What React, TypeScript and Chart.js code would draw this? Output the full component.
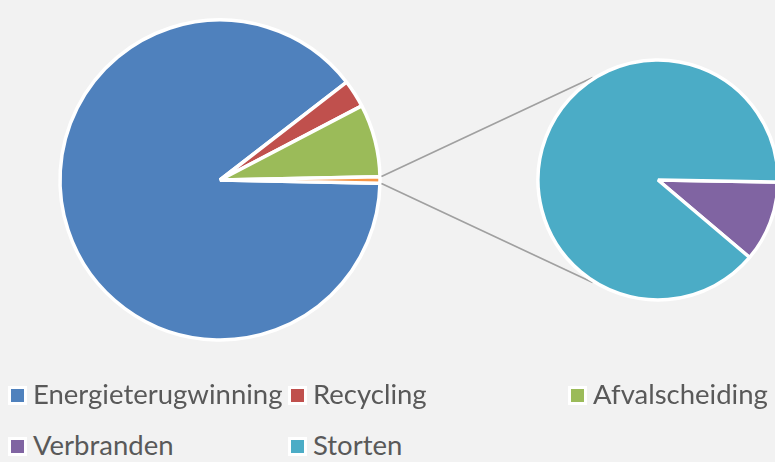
import React, { useEffect, useRef } from "react";
import { Chart, registerables } from "chart.js";

Chart.register(...registerables);

// Primary pie categories
const mainLabels = ["Energieterugwinning", "Recycling", "Afvalscheiding"];
const mainValues = [89.2, 2.8, 7.33];
const mainColors = ["#4f81bd", "#c0504d", "#9bbb59"];
const otherLabel = "Overig";
const otherColor = "#f79646";

// Secondary (split-off) pie categories
const secondLabels = ["Verbranden", "Storten"];
const secondValues = [0.073, 0.597];
const secondColors = ["#8064a2", "#4bacc6"];

// Legend order
const legendLabels = [...mainLabels, ...secondLabels];
const legendColors = [...mainColors, ...secondColors];

const W = 775;
const H = 462;
const CH = 370;

export default function App() {
  const leftRef = useRef<HTMLCanvasElement | null>(null);
  const rightRef = useRef<HTMLCanvasElement | null>(null);

  useEffect(() => {
    const otherValue = secondValues.reduce((a, b) => a + b, 0);
    const total = mainValues.reduce((a, b) => a + b, 0) + otherValue;
    const otherAngle = (360 * otherValue) / total;

    const left = new Chart(leftRef.current as HTMLCanvasElement, {
      type: "pie",
      data: {
        labels: [...mainLabels, otherLabel],
        datasets: [
          {
            data: [...mainValues, otherValue],
            backgroundColor: [...mainColors, otherColor],
            borderColor: "#ffffff",
            borderWidth: 3.5,
            hoverOffset: 0,
            radius: 160,
            clip: false,
          } as any,
        ],
      },
      options: {
        animation: false,
        responsive: false,
        events: [],
        rotation: 90 + otherAngle / 2,
        layout: { padding: { left: 50, right: W - 390, top: 10, bottom: CH - 350 } },
        plugins: { legend: { display: false }, tooltip: { enabled: false } },
      },
    });

    const connector = {
      id: "connector",
      beforeDatasetsDraw(chart: any) {
        const other: any = left.getDatasetMeta(0).data[mainValues.length];
        const arc: any = chart.getDatasetMeta(0).data[0];
        if (!other || !arc) return;
        const ctx = chart.ctx as CanvasRenderingContext2D;
        const r1 = other.outerRadius + 1.5;
        const p1x = other.x + r1 * Math.cos(other.startAngle);
        const p1y = other.y + r1 * Math.sin(other.startAngle);
        const p2x = other.x + r1 * Math.cos(other.endAngle);
        const p2y = other.y + r1 * Math.sin(other.endAngle);
        const r2 = arc.outerRadius + 1.5;
        const a = (57.5 * Math.PI) / 180;
        const q1x = arc.x - r2 * Math.cos(a);
        const q1y = arc.y - r2 * Math.sin(a);
        const q2x = arc.x - r2 * Math.cos(a);
        const q2y = arc.y + r2 * Math.sin(a);
        ctx.save();
        ctx.strokeStyle = "#a0a0a0";
        ctx.lineWidth = 1.7;
        ctx.beginPath();
        ctx.moveTo(p1x, p1y);
        ctx.lineTo(q1x, q1y);
        ctx.moveTo(p2x, p2y);
        ctx.lineTo(q2x, q2y);
        ctx.stroke();
        ctx.restore();
      },
    };

    const right = new Chart(rightRef.current as HTMLCanvasElement, {
      type: "pie",
      data: {
        labels: secondLabels,
        datasets: [
          {
            data: secondValues,
            backgroundColor: secondColors,
            borderColor: "#ffffff",
            borderWidth: 3.5,
            hoverOffset: 0,
            radius: 120,
            clip: false,
          } as any,
        ],
      },
      options: {
        animation: false,
        responsive: false,
        events: [],
        rotation: 91,
        layout: { padding: { left: 548, right: W - 768, top: 70, bottom: CH - 290 } },
        plugins: { legend: { display: false }, tooltip: { enabled: false } },
      },
      plugins: [connector],
    });

    return () => {
      right.destroy();
      left.destroy();
    };
  }, []);

  return (
    <div
      style={{
        position: "fixed",
        left: 0,
        top: 0,
        width: W,
        height: H,
        background: "#f2f2f2",
        overflow: "hidden",
      }}
    >
      <canvas
        ref={leftRef}
        width={W}
        height={CH}
        style={{ position: "absolute", left: 0, top: 0, width: W, height: CH }}
      />
      <canvas
        ref={rightRef}
        width={W}
        height={CH}
        style={{ position: "absolute", left: 0, top: 0, width: W, height: CH }}
      />
      {legendLabels.map((label, i) => {
        const col = i % 3;
        const row = Math.floor(i / 3);
        return (
          <div
            key={label}
            style={{
              position: "absolute",
              left: 8 + col * 280,
              top: 385 + row * 51.5,
              height: 20,
              display: "flex",
              alignItems: "center",
              whiteSpace: "nowrap",
            }}
          >
            <span
              style={{
                display: "inline-block",
                width: 13,
                height: 13,
                background: legendColors[i],
                border: "3.5px solid #ffffff",
              }}
            />
            <span
              style={{
                marginLeft: 6,
                fontFamily: "Lato, 'Open Sans', sans-serif",
                fontSize: 27.5,
                color: "#595959",
                position: "relative",
                top: -2,
              }}
            >
              {label}
            </span>
          </div>
        );
      })}
    </div>
  );
}
